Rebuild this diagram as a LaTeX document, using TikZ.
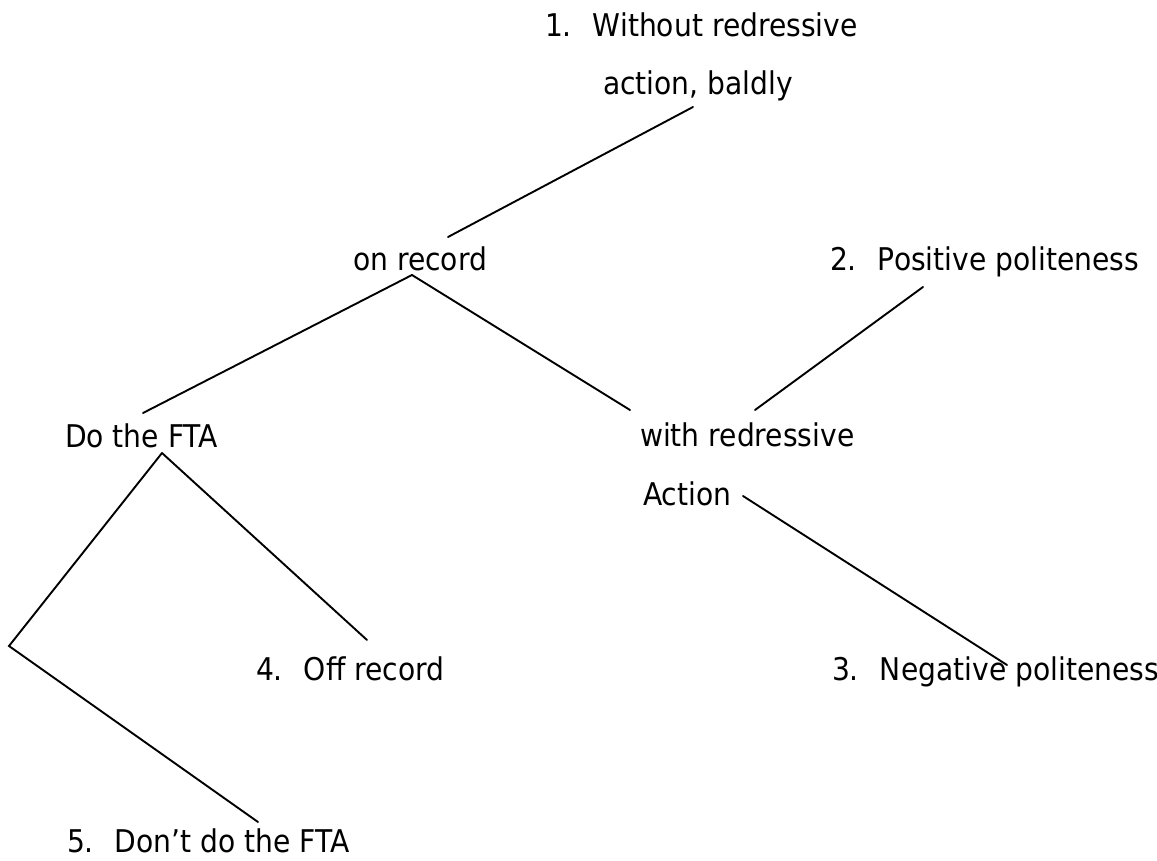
\documentclass[tikz,border=0pt]{standalone}
\usepackage{fontspec}
\setmainfont{DejaVu Sans}[FakeStretch=0.9]
\begin{document}
\begin{tikzpicture}[x=1pt,y=-1pt,
  lbl/.style={anchor=base west,inner sep=0pt,outer sep=0pt,font=\fontsize{31.3}{36}\selectfont},
  conn/.style={line width=1.9pt,line cap=round}]
\useasboundingbox (0,0) rectangle (1157,861);
\newcommand{\numlbl}[1]{\makebox[48pt][l]{#1}}
% labels
\node[lbl] (n1)     at (545,37)  {\numlbl{1.}Without redressive};
\node[lbl] (n1b)    at (603,95)  {action, baldly};
\node[lbl] (onrec)  at (353,270) {on record};
\node[lbl] (n2)     at (830,270) {\numlbl{2.}Positive politeness};
\node[lbl] (dofta)  at (65,447)  {Do the FTA};
\node[lbl] (withr)  at (640,446) {with redressive};
\node[lbl] (action) at (643,505) {Action};
\node[lbl] (n4)     at (256,680) {\numlbl{4.}Off record};
\node[lbl] (n3)     at (832,680) {\numlbl{3.}Negative politeness};
\node[lbl] (n5)     at (67,852)  {\numlbl{5.}Don’t do the FTA};
\coordinate (corner) at (9,646);
% connectors
\draw[conn] ([shift={(90,12)}]n1b.base west) -- ([shift={(95,-33)}]onrec.base west);
\draw[conn] ([shift={(59,5)}]onrec.base west) -- ([shift={(78,-34)}]dofta.base west);
\draw[conn] ([shift={(59,5)}]onrec.base west) -- ([shift={(-10,-36)}]withr.base west);
\draw[conn] ([shift={(93,17)}]n2.base west) -- ([shift={(115,-36)}]withr.base west);
\draw[conn] ([shift={(100,-9)}]action.base west) -- ([shift={(175,-15)}]n3.base west);
\draw[conn] ([shift={(97,6)}]dofta.base west) -- ([shift={(111,-40)}]n4.base west);
\draw[conn] ([shift={(97,6)}]dofta.base west) -- (corner) -- ([shift={(191,-30)}]n5.base west);
\end{tikzpicture}
\end{document}
